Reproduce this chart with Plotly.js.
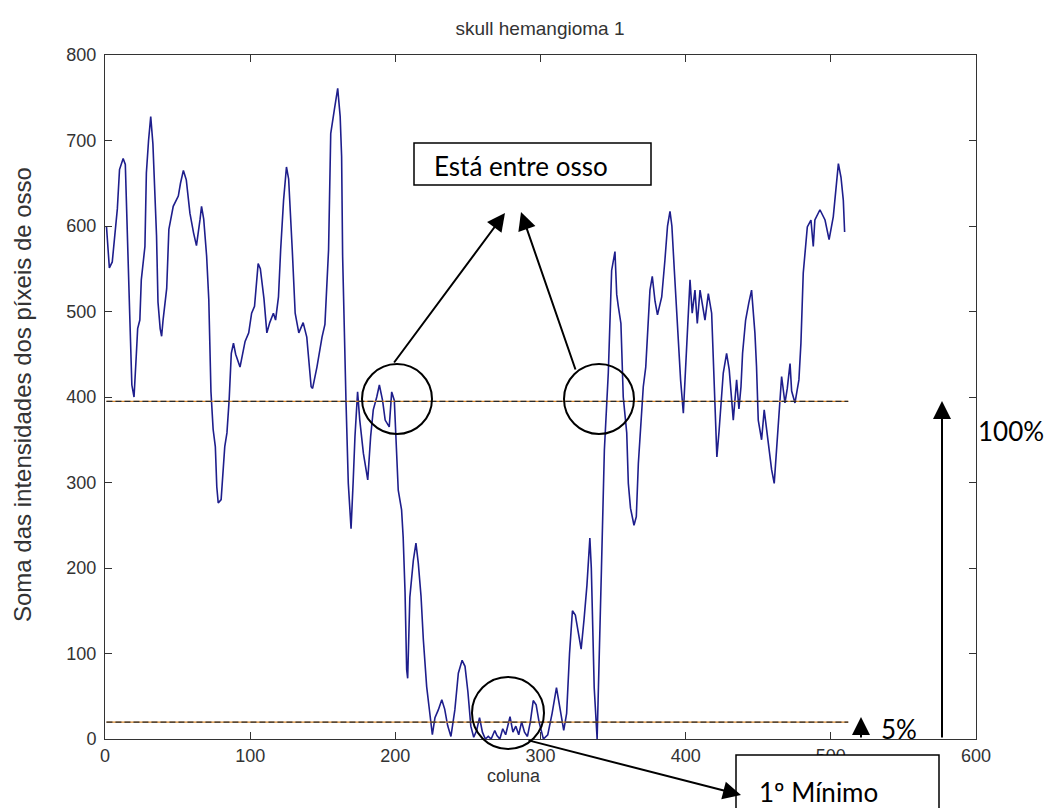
<!DOCTYPE html>
<html>
<head>
<meta charset="utf-8">
<script src="https://cdn.plot.ly/plotly-3.0.1.min.js"></script>
<style>
  html, body { margin: 0; padding: 0; background: #ffffff; }
  #chart { width: 1045px; height: 808px; }
</style>
</head>
<body>
<div id="chart"></div>
<script>
// Column index along the image
const colX = [
  1, 3, 5, 7, 8.5, 10, 12.5, 14, 15, 16, 17, 18.5, 20, 21.5, 22.5, 24, 25, 27.5, 28.5, 30,
  31.5, 33, 34, 35.5, 36.5, 38, 39, 40, 42.5, 44, 47, 50.5, 52, 54, 56, 58.5, 61, 63, 65.5, 66.5,
  68, 70, 71.5, 73, 74.5, 76, 77, 78, 80, 82.5, 84, 85.5, 87, 88.5, 90, 93, 96.5, 99, 101, 103,
  105.5, 107, 109.5, 111.5, 113.5, 116, 117.5, 119.5, 121, 123, 125, 126.5, 129, 131, 133.5, 136.5, 139, 142, 143, 146,
  149.5, 151.5, 154, 155.5, 158, 160.3, 162, 163, 163.7, 165, 166, 167.6, 168.7, 169.5, 171, 172.2, 174, 175.5, 178, 181,
  183, 184.8, 187.2, 189, 191.2, 193, 195.8, 197.5, 199.3, 200.2, 201, 202, 204.3, 205.4, 206.7, 207.8, 208.5, 210, 212.4, 214.2,
  215.8, 217.7, 219.3, 221.6, 223.2, 225.5, 227.3, 229.6, 232, 234, 236, 238.3, 241, 243.4, 246, 248, 250, 252, 254, 256,
  258, 260, 262, 264, 266, 268.5, 270, 272, 274, 276, 279, 281, 283, 285, 287, 289, 291, 293, 295, 297,
  299, 302, 305, 308, 311, 313, 316, 318, 320, 322, 324, 326, 328, 330, 332, 334, 335, 337, 339, 342,
  344, 346.7, 347.9, 349, 351.3, 352.5, 353.6, 355.4, 357, 359.4, 360.5, 362, 364.4, 366, 367.4, 370.8, 372.5, 375.4, 377, 378.9,
  380.6, 383.5, 385.7, 387.5, 389.2, 390.5, 392.2, 394.5, 396.5, 398.4, 400.7, 403, 404.5, 406.4, 408, 409.9, 413.3, 415.6, 417.9, 419,
  420.2, 421.5, 423, 424.4, 425.9, 428.2, 430, 432.8, 435.1, 436.7, 438.1, 439.2, 441.3, 443.5, 445.4, 447.7, 448.8, 450, 452.3, 454.1,
  455.7, 459.2, 461, 462.6, 464.9, 466.1, 468.4, 470, 471.9, 473, 475.3, 478, 479.4, 481, 482.2, 483.8, 486.3, 487.9, 489, 492.5,
  496, 498.8, 501.7, 503.6, 505.2, 507, 508.6, 509.5
];

// Sum of bone pixel intensities per column
const boneSum = [
  600, 551, 558, 597, 620, 666, 679, 672, 603, 548, 498, 414, 400, 447, 480, 490, 537, 576, 662, 700,
  728, 696, 650, 589, 511, 480, 471, 490, 527, 596, 623, 635, 650, 665, 654, 615, 592, 577, 608, 623,
  608, 565, 514, 406, 362, 342, 295, 276, 280, 342, 358, 396, 451, 463, 450, 435, 465, 475, 498, 506,
  556, 550, 515, 475, 487, 498, 490, 517, 572, 630, 669, 655, 572, 498, 475, 487, 470, 412, 410, 435,
  470, 485, 572, 708, 736, 761, 728, 681, 564, 459, 396, 299, 264, 246, 303, 354, 406, 373, 334, 303,
  354, 385, 400, 414, 396, 373, 365, 406, 396, 358, 319, 291, 268, 236, 171, 81, 71, 166, 209, 229,
  206, 167, 116, 61, 38, 5, 25, 34, 46, 35, 16, 3, 34, 77, 92, 85, 55, 15, 2, 10,
  25, 8, 0, 3, 0, 10, 4, 0, 12, 5, 26, 8, 15, 5, 20, 8, 3, 20, 45, 40,
  20, 0, 5, 30, 60, 40, 10, 30, 100, 150, 145, 125, 105, 140, 180, 235, 200, 60, 0, 200,
  338, 428, 486, 548, 570, 520, 506, 486, 400, 358, 299, 270, 250, 260, 322, 412, 435, 525, 541, 512,
  496, 517, 560, 600, 617, 600, 548, 482, 420, 381, 467, 537, 498, 525, 486, 525, 490, 521, 498, 443,
  393, 330, 360, 395, 428, 451, 432, 373, 420, 386, 412, 451, 490, 510, 525, 475, 436, 373, 350, 385,
  361, 315, 299, 342, 400, 424, 393, 410, 439, 407, 393, 420, 463, 545, 568, 599, 607, 576, 607, 619,
  607, 584, 611, 642, 673, 657, 630, 593
];

// Reference levels: the plateau value (100%) and 5% of it
const levelX = [1, 512];
const fullLevel = 395;
const lowFraction = 0.05;
const lowLevel = fullLevel * lowFraction;

// Axis ticks
const xTicks = [0, 100, 200, 300, 400, 500, 600];
const yTicks = [0, 100, 200, 300, 400, 500, 600, 700, 800];

// Plot box in page pixels, used to place callouts in paper coordinates
const box = { left: 105, right: 976, top: 55, bottom: 739 };
const W = 1045, H = 808;
const px = v => (v - box.left) / (box.right - box.left);
const py = v => (box.bottom - v) / (box.bottom - box.top);

const axisFamily = 'Liberation Sans, Arial, sans-serif';
const tickFont = { family: axisFamily, size: 18, color: '#333333' };
const noteFont = { family: 'Lato, Open Sans, sans-serif', size: 26, color: '#000000' };

const levelTrace = (y) => [
  { x: levelX, y: [y, y], mode: 'lines', showlegend: false, hoverinfo: 'skip',
    line: { color: '#d9892e', width: 1.2 } },
  { x: levelX, y: [y, y], mode: 'lines', showlegend: false, hoverinfo: 'skip',
    line: { color: '#2a2a2a', width: 1.2, dash: '6px,3px' } }
];

const traces = [
  { x: colX, y: boneSum, mode: 'lines', showlegend: false,
    line: { color: '#1e1e8c', width: 1.6 } },
  ...levelTrace(fullLevel),
  ...levelTrace(lowLevel)
];

const circle = (cx, cy, r) => ({
  type: 'circle', xref: 'paper', yref: 'paper',
  x0: px(cx - r), x1: px(cx + r), y0: py(cy + r), y1: py(cy - r),
  line: { color: '#000000', width: 2 }
});

const rect = (x0, y0, x1, y1) => ({
  type: 'rect', xref: 'paper', yref: 'paper',
  x0: px(x0), x1: px(x1), y0: py(y1), y1: py(y0),
  fillcolor: '#ffffff', line: { color: '#000000', width: 1.5 }
});

const arrow = (tailX, tailY, tipX, tipY) => ({
  xref: 'paper', yref: 'paper', x: px(tipX), y: py(tipY),
  axref: 'pixel', ayref: 'pixel', ax: tailX - tipX, ay: tailY - tipY,
  text: '', showarrow: true, arrowhead: 2, arrowsize: 1.8, arrowwidth: 2,
  arrowcolor: '#000000', standoff: 0, startstandoff: 0
});

const note = (text, leftX, midY) => ({
  xref: 'paper', yref: 'paper', x: px(leftX), y: py(midY),
  xanchor: 'left', yanchor: 'middle', text: text, showarrow: false, font: noteFont
});

const layout = {
  width: W, height: H,
  margin: { l: box.left, r: W - box.right, t: box.top, b: H - box.bottom, pad: 0 },
  paper_bgcolor: '#ffffff', plot_bgcolor: '#ffffff',
  title: { text: 'skull hemangioma 1', x: px(540), xref: 'paper', y: 1 - 28 / H, yref: 'container',
           xanchor: 'center', yanchor: 'middle', font: { family: axisFamily, size: 19, color: '#333333' } },
  xaxis: {
    range: [0, 600], tickvals: xTicks, ticktext: xTicks.map(String),
    ticks: 'inside', ticklen: 7, tickcolor: '#333333', mirror: 'ticks',
    showline: true, linecolor: '#333333', linewidth: 1,
    showgrid: false, zeroline: false, tickfont: tickFont
  },
  yaxis: {
    range: [0, 800], tickvals: yTicks, ticktext: yTicks.map(String),
    ticks: 'inside', ticklen: 7, tickcolor: '#333333', mirror: 'ticks',
    showline: true, linecolor: '#333333', linewidth: 1, ticklabelstandoff: 4,
    showgrid: false, zeroline: false, tickfont: tickFont
  },
  shapes: [
    circle(397, 399, 35),
    circle(599, 399, 35),
    circle(508, 713, 36),
    rect(414, 143, 651, 185),
    rect(736, 755, 939, 830)
  ],
  annotations: [
    { xref: 'paper', yref: 'paper', x: px(22), y: py(395), xanchor: 'center', yanchor: 'middle',
      textangle: -90, text: 'Soma das intensidades dos píxeis de osso', showarrow: false,
      font: { family: axisFamily, size: 24, color: '#333333' } },
    { xref: 'paper', yref: 'paper', x: px(514), y: py(776), xanchor: 'center', yanchor: 'middle',
      text: 'coluna', showarrow: false, font: { family: axisFamily, size: 18, color: '#333333' } },
    arrow(393, 364, 505, 213),
    arrow(576, 371, 521, 212),
    arrow(527, 740, 741, 795),
    arrow(942, 739, 942, 401),
    arrow(861, 739, 861, 717),
    note('Está entre osso', 432, 166),
    note('1º Mínimo', 757, 792),
    note('100%', 976, 431),
    note('5%', 879, 729)
  ]
};

Plotly.newPlot('chart', traces, layout, { displayModeBar: false, staticPlot: true });
</script>
</body>
</html>
